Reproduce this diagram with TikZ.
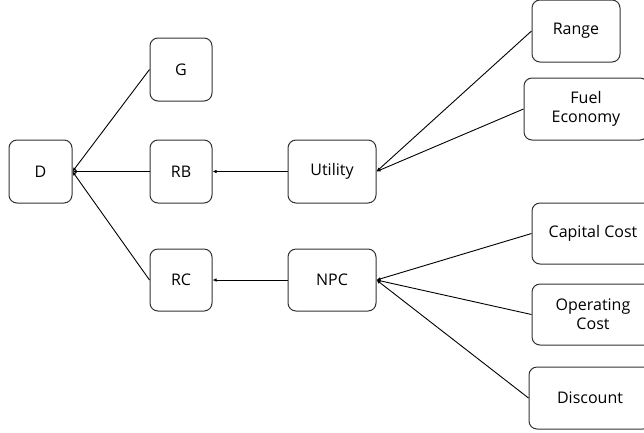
\documentclass[tikz,border=0pt]{standalone}
\usepackage{fontspec}
\setmainfont{Open Sans}
\usetikzlibrary{arrows.meta}
\begin{document}
\begin{tikzpicture}[x=1pt,y=-1pt,
  box/.style={draw=black!80,line width=1pt,rounded corners=8pt,align=center,font=\fontsize{16}{19}\selectfont,inner sep=0pt},
  conn/.style={draw=black,line width=0.9pt,-{Latex[length=4pt,width=3.5pt]}}]
\useasboundingbox (0,0) rectangle (644,432);
\fill[white] (0,0) rectangle (644,432);
\node[box,minimum width=63pt,minimum height=63pt] (D) at (40.5,171.5) {D};
\node[box,minimum width=62pt,minimum height=63pt] (G) at (181,69.5) {G};
\node[box,minimum width=62pt,minimum height=63pt] (RB) at (181,171.5) {RB};
\node[box,minimum width=62pt,minimum height=62pt] (RC) at (181,280) {RC};
\node[box,minimum width=88pt,minimum height=63pt] (U) at (332,171.5) {Utility};
\node[box,minimum width=88pt,minimum height=62pt] (N) at (332,280) {NPC};
\node[box,minimum width=88pt,minimum height=62pt] (R) at (576,31) {Range};
\node[box,minimum width=124pt,minimum height=62pt] (F) at (586,109) {Fuel\\Economy};
\node[box,minimum width=122pt,minimum height=61pt] (C) at (593,233.5) {Capital Cost};
\node[box,minimum width=122pt,minimum height=61pt] (O) at (593,314.5) {Operating\\Cost};
\node[box,minimum width=122pt,minimum height=62pt] (S) at (590,398) {Discount};
\draw[conn] (G.west) -- (D.east);
\draw[conn] (RB.west) -- (D.east);
\draw[conn] (RC.west) -- (D.east);
\draw[conn] (U.west) -- (RB.east);
\draw[conn] (N.west) -- (RC.east);
\draw[conn] (R.west) -- (U.east);
\draw[conn] (F.west) -- (U.east);
\draw[conn] (C.west) -- (N.east);
\draw[conn] (O.west) -- (N.east);
\draw[conn] (S.west) -- (N.east);
\end{tikzpicture}
\end{document}
